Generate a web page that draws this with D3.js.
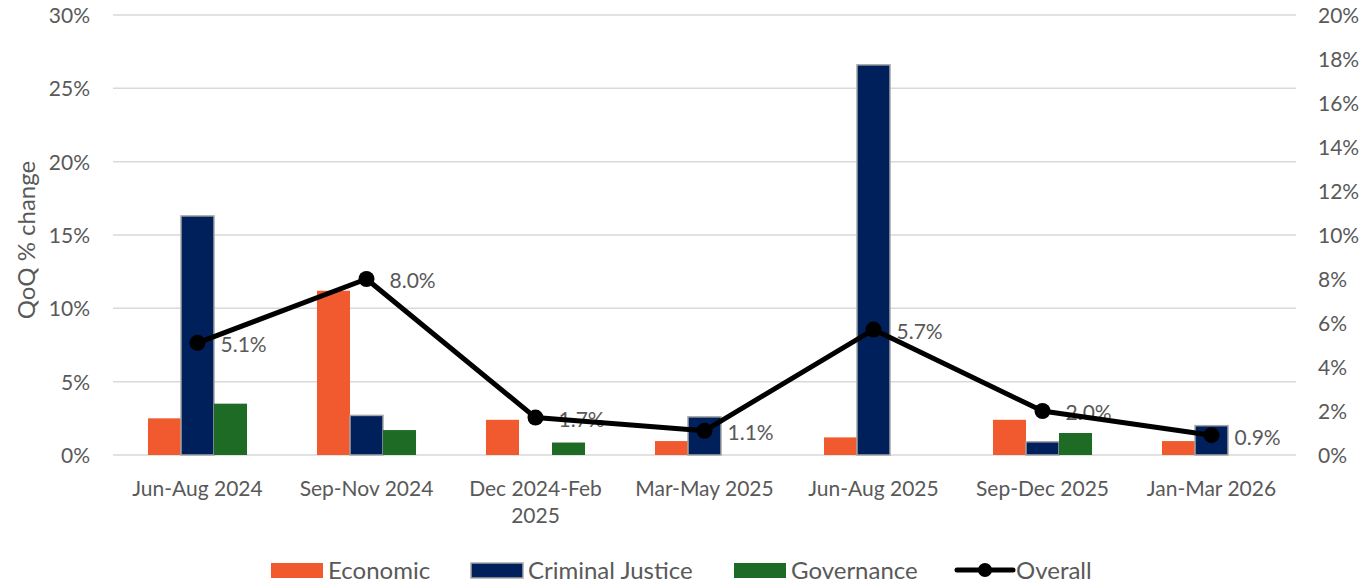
<!DOCTYPE html>
<html>
<head>
<meta charset="utf-8">
<script src="https://cdn.jsdelivr.net/npm/d3@7"></script>
<style>
  body { margin: 0; background: #fff; }
  text { font-family: Lato, "Open Sans", sans-serif; fill: #595959; }
</style>
</head>
<body>
<svg id="chart" width="1368" height="583"></svg>
<script>
// quarters on the x axis (\n = line break as in the original)
const periods = ["Jun-Aug 2024", "Sep-Nov 2024", "Dec 2024-Feb\n2025", "Mar-May 2025", "Jun-Aug 2025", "Sep-Dec 2025", "Jan-Mar 2026"];

// bar series, QoQ % change (left axis)
const economic = [2.5, 11.2, 2.4, 0.95, 1.2, 2.4, 0.95];
const criminalJustice = [16.3, 2.7, 0, 2.6, 26.6, 0.9, 2.0];
const governance = [3.5, 1.7, 0.85, 0, 0, 1.5, 0];

// line series (right axis)
const overall = [5.1, 8.0, 1.7, 1.1, 5.7, 2.0, 0.9];

const leftTicks = [0, 5, 10, 15, 20, 25, 30];
const rightTicks = [0, 2, 4, 6, 8, 10, 12, 14, 16, 18, 20];

const series = [
    {name: "Economic", values: economic, color: "#f15a2f", stroke: null},
    {name: "Criminal Justice", values: criminalJustice, color: "#00205b", stroke: "#a6a6a6"},
    {name: "Governance", values: governance, color: "#1e6b25", stroke: null}
];

const svg = d3.select("#chart");
const plot = {left: 113, right: 1296, top: 15, bottom: 455};

const x0 = d3.scaleBand()
    .domain(periods)
    .range([plot.left, plot.right])
    .paddingInner(0.414)
    .paddingOuter(0.207);

const x1 = d3.scaleBand()
    .domain(series.map(s => s.name))
    .range([0, x0.bandwidth()]);

const yLeft = d3.scaleLinear().domain([0, 30]).range([plot.bottom, plot.top]);
const yRight = d3.scaleLinear().domain([0, 20]).range([plot.bottom, plot.top]);

// gridlines
svg.append("g")
    .selectAll("line")
    .data(leftTicks)
    .join("line")
    .attr("x1", plot.left)
    .attr("x2", plot.right)
    .attr("y1", d => yLeft(d))
    .attr("y2", d => yLeft(d))
    .attr("stroke", "#d9d9d9")
    .attr("stroke-width", 1.5);

// left axis labels
const leftAxis = svg.append("g")
    .attr("transform", `translate(${plot.left - 23},0)`)
    .call(d3.axisLeft(yLeft).tickValues(leftTicks).tickFormat(d => d + "%").tickSize(0).tickPadding(0));
leftAxis.select(".domain").remove();
leftAxis.selectAll("text").attr("font-size", 21).attr("font-family", "Lato").attr("fill", "#595959").attr("dy", "0.35em");

// right axis labels
const rightAxis = svg.append("g")
    .attr("transform", `translate(${plot.right + 22},0)`)
    .call(d3.axisRight(yRight).tickValues(rightTicks).tickFormat(d => d + "%").tickSize(0).tickPadding(0));
rightAxis.select(".domain").remove();
rightAxis.selectAll("text").attr("font-size", 21).attr("font-family", "Lato").attr("fill", "#595959").attr("dy", "0.35em");

// y title
svg.append("text")
    .attr("transform", `translate(35,${(plot.top + plot.bottom) / 2 + 5}) rotate(-90)`)
    .attr("text-anchor", "middle")
    .attr("font-size", 24)
    .text("QoQ % change");

// bars
const groups = svg.append("g")
    .selectAll("g")
    .data(periods)
    .join("g")
    .attr("transform", d => `translate(${x0(d)},0)`);

groups.selectAll("rect")
    .data((d, i) => series.map(s => ({s, v: s.values[i]})).filter(e => e.v > 0))
    .join("rect")
    .attr("x", e => x1(e.s.name))
    .attr("width", x1.bandwidth())
    .attr("y", e => yLeft(e.v))
    .attr("height", e => yLeft(0) - yLeft(e.v))
    .attr("fill", e => e.s.color)
    .attr("stroke", e => e.s.stroke || "none")
    .attr("stroke-width", 1.5);

// x labels
svg.append("g")
    .selectAll("text")
    .data(periods)
    .join("text")
    .attr("x", d => x0(d) + x0.bandwidth() / 2)
    .attr("y", 496)
    .attr("text-anchor", "middle")
    .attr("font-size", 21)
    .each(function(d) {
        const lines = d.split("\n");
        d3.select(this).selectAll("tspan")
            .data(lines)
            .join("tspan")
            .attr("x", d3.select(this).attr("x"))
            .attr("dy", (l, i) => i ? 27 : 0)
            .text(l => l);
    });

const cx = d => x0(d) + x0.bandwidth() / 2;

// data labels
svg.append("g")
    .selectAll("text")
    .data(periods)
    .join("text")
    .attr("x", d => cx(d) + 23)
    .attr("y", (d, i) => yRight(overall[i]))
    .attr("dy", "0.45em")
    .attr("font-size", 21)
    .text((d, i) => overall[i].toFixed(1) + "%");

// overall line
const line = d3.line()
    .x((d, i) => cx(periods[i]))
    .y(d => yRight(d));

svg.append("path")
    .attr("d", line(overall))
    .attr("fill", "none")
    .attr("stroke", "#000")
    .attr("stroke-width", 5)
    .attr("stroke-linejoin", "round");

svg.append("g")
    .selectAll("circle")
    .data(overall)
    .join("circle")
    .attr("cx", (d, i) => cx(periods[i]))
    .attr("cy", d => yRight(d))
    .attr("r", 8)
    .attr("fill", "#000");

// legend
const legendItems = [
    {name: "Economic", x: 271, type: "rect", color: "#f15a2f"},
    {name: "Criminal Justice", x: 471, type: "rect", color: "#00205b", stroke: "#a6a6a6"},
    {name: "Governance", x: 734, type: "rect", color: "#1e6b25"},
    {name: "Overall", x: 957, type: "line", color: "#000"}
];
const legend = svg.append("g");
legendItems.forEach(item => {
    const g = legend.append("g").attr("transform", `translate(${item.x},570)`);
    if (item.type === "rect") {
        g.append("rect")
            .attr("x", 0).attr("y", -7).attr("width", 52).attr("height", 15)
            .attr("fill", item.color)
            .attr("stroke", item.stroke || "none")
            .attr("stroke-width", 1.5);
    } else {
        g.append("line")
            .attr("x1", 0).attr("x2", 56).attr("y1", 0).attr("y2", 0)
            .attr("stroke", item.color).attr("stroke-width", 5).attr("stroke-linecap", "round");
        g.append("circle").attr("cx", 28).attr("cy", 0).attr("r", 7).attr("fill", item.color);
    }
    g.append("text")
        .attr("x", item.type === "rect" ? 57 : 59)
        .attr("y", 0)
        .attr("dy", "0.36em")
        .attr("font-size", 24)
        .text(item.name);
});
</script>
</body>
</html>
